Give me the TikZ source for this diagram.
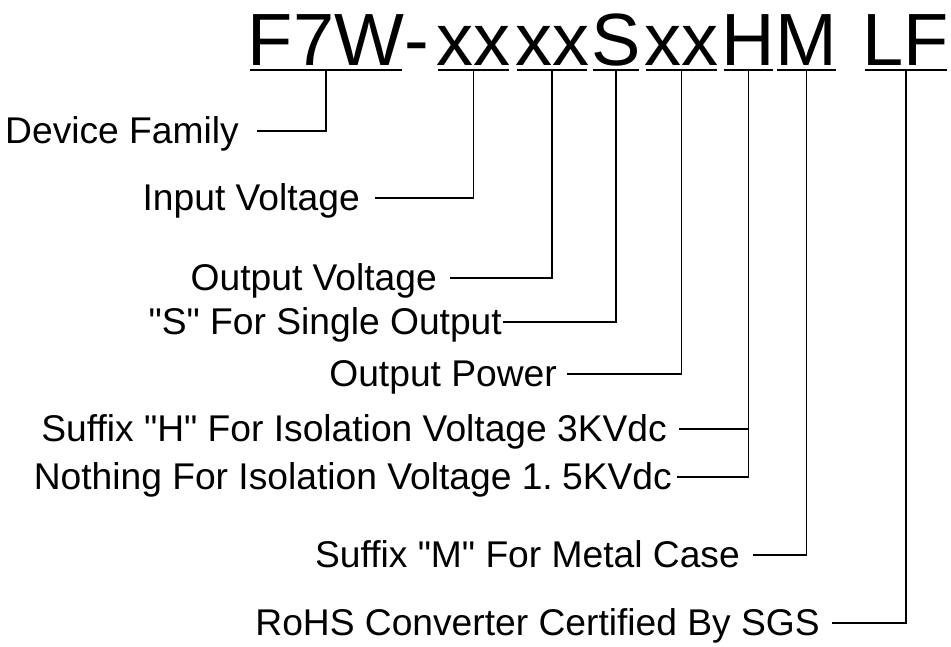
\documentclass[tikz,border=0pt]{standalone}
\usepackage{fontspec}
\setmainfont{Liberation Sans}[Ligatures=TeXOff]
\begin{document}
\begin{tikzpicture}[x=1pt,y=-1pt,
  ttl/.style={font=\fontsize{74}{80}\selectfont, inner sep=0pt, anchor=base},
  lbl/.style={font=\fontsize{37.2}{40}\selectfont, inner ysep=0pt, text height=24pt, text depth=0pt, anchor=east},
  ln/.style={line width=1.6pt},
  uline/.style={line width=1.8pt, shorten <=2pt, shorten >=2pt}]
\useasboundingbox (0,0) rectangle (951,646);
% title segments
\node[ttl] (t1) at (326,65) {F7W};
\node[ttl] (td) at (417,65) {-};
\node[ttl] (t2) at (473.5,65) {xx};
\node[ttl] (t3) at (552,65) {xx};
\node[ttl] (t4) at (616,65) {S};
\node[ttl] (t5) at (681.5,65) {xx};
\node[ttl] (t6) at (748.5,65) {H};
\node[ttl] (t7) at (806.5,65) {M};
\node[ttl] (t8) at (906,65) {LF};
% underlines and tick origins
\foreach \n in {t1,t2,t3,t4,t5,t6,t7,t8}{
  \draw[uline] ([yshift=-5pt]\n.base west) -- ([yshift=-5pt]\n.base east);
  \coordinate (u\n) at ([yshift=-5pt]\n.base);
}
% labels
\node[lbl, inner xsep=18pt] (lDF) at (257,131) {Device Family};
\node[lbl, inner xsep=15pt] (lIV) at (375,198) {Input Voltage};
\node[lbl, inner xsep=13pt] (lOV) at (450,278) {Output Voltage};
\node[lbl, inner xsep=1pt]  (lS)  at (503,322) {"S" For Single Output};
\node[lbl, inner xsep=10pt] (lOP) at (567,374) {Output Power};
\node[lbl, inner xsep=12pt] (lH)  at (679,429) {Suffix "H" For Isolation Voltage 3KVdc};
\node[lbl, inner xsep=5pt]  (lN)  at (677,477) {Nothing For Isolation Voltage 1.\hspace{0.25em}5KVdc};
\node[lbl, inner xsep=13pt] (lM)  at (753,555) {Suffix "M" For Metal Case};
\node[lbl, inner xsep=12pt] (lLF) at (832,623) {RoHS Converter Certified By SGS};
% connectors
\draw[ln] (ut1) |- (lDF.east);
\draw[ln] (ut2) |- (lIV.east);
\draw[ln] (ut3) |- (lOV.east);
\draw[ln] (ut4) |- (lS.east);
\draw[ln] (ut5) |- (lOP.east);
\draw[ln] (ut6) |- (lH.east);
\draw[ln] (ut6) |- (lN.east);
\draw[ln] (ut7) |- (lM.east);
\draw[ln] (ut8) |- (lLF.east);
\end{tikzpicture}
\end{document}
